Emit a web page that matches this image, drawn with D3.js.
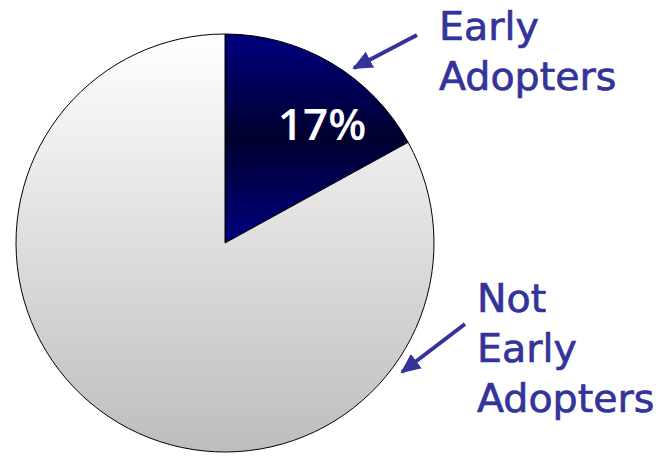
<!DOCTYPE html>
<html><head><meta charset="utf-8">
<script src="https://cdn.jsdelivr.net/npm/d3@7"></script>
<style>html,body{margin:0;padding:0;background:#fff;}</style>
</head><body>
<svg id="c" width="661" height="460"></svg>
<script>
const categories = ["Early Adopters", "Not Early Adopters"];
const values = [17, 83];
const labelLines = [["Early", "Adopters"], ["Not", "Early", "Adopters"]];
const pctLabel = ["17%", ""];

const svg = d3.select("#c");
const cx = 225, cy = 243, R = 209;
const defs = svg.append("defs");
const g1 = defs.append("linearGradient").attr("id", "gDark")
  .attr("gradientUnits", "userSpaceOnUse").attr("x1", 0).attr("y1", -R).attr("x2", 0).attr("y2", 0);
g1.append("stop").attr("offset", 0).attr("stop-color", "#000080");
g1.append("stop").attr("offset", 0.5).attr("stop-color", "#00002e");
g1.append("stop").attr("offset", 1).attr("stop-color", "#000080");
const g2 = defs.append("linearGradient").attr("id", "gLight")
  .attr("gradientUnits", "userSpaceOnUse").attr("x1", 0).attr("y1", -R).attr("x2", 0).attr("y2", R);
g2.append("stop").attr("offset", 0).attr("stop-color", "#ffffff");
g2.append("stop").attr("offset", 1).attr("stop-color", "#bdbdbd");
const defsArrow = defs.append("marker").attr("id", "ah").attr("viewBox", "0 0 10 10")
  .attr("refX", 9).attr("refY", 5).attr("markerWidth", 5).attr("markerHeight", 5)
  .attr("markerUnits", "strokeWidth").attr("orient", "auto");
defsArrow.append("path").attr("d", "M0,0.5 L10,5 L0,9.5 z").attr("fill", "#333399");

const pie = d3.pie().sort(null).value(d => d)(values);
const arc = d3.arc().innerRadius(0).outerRadius(R);
const fills = ["url(#gDark)", "url(#gLight)"];
const gp = svg.append("g").attr("transform", `translate(${cx},${cy})`);
gp.selectAll("path").data(pie).join("path")
  .attr("d", arc).attr("fill", (d, i) => fills[i])
  .attr("stroke", "#000").attr("stroke-width", 1);

gp.append("text").attr("x", 97).attr("y", -103).attr("text-anchor", "middle")
  .attr("font-family", "Open Sans, sans-serif").attr("font-weight", 600)
  .attr("font-size", 44).attr("fill", "#fff").text(pctLabel[0]);

const font = "DejaVu Sans, sans-serif";
const lab = [
  {x: 439, y0: 40, lines: labelLines[0]},
  {x: 477, y0: 312, lines: labelLines[1]}
];
lab.forEach(L => {
  L.lines.forEach((s, k) => svg.append("text").attr("font-family", font)
    .attr("font-size", 39.5).attr("fill", "#333399")
    .attr("stroke", "#333399").attr("stroke-width", 0.7)
    .attr("x", L.x).attr("y", L.y0 + k * 50).text(s));
});
const arrows = [[417, 35, 354, 68], [465, 324, 402, 372]];
arrows.forEach(a => svg.append("line").attr("x1", a[0]).attr("y1", a[1]).attr("x2", a[2]).attr("y2", a[3])
  .attr("stroke", "#333399").attr("stroke-width", 4).attr("marker-end", "url(#ah)"));
</script>
</body></html>
